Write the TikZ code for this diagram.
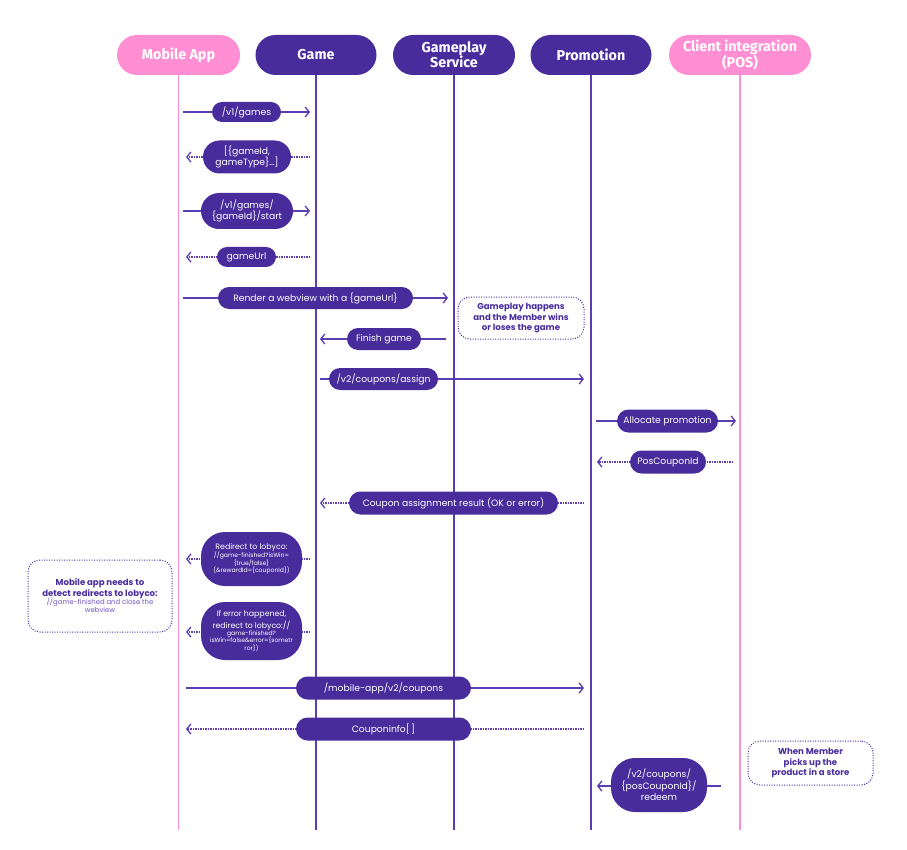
\documentclass[tikz,border=0pt]{standalone}
\usepackage{fontspec}
\setmainfont{Poppins}
\newfontfamily\headfont{Fira Sans}
\usetikzlibrary{arrows.meta,shapes.misc}
\definecolor{pinkc}{HTML}{FF8FD2}
\definecolor{purp}{HTML}{482C9C}
\definecolor{linec}{HTML}{5A3CB4}
\definecolor{notec}{HTML}{4A2E9E}
\definecolor{notelight}{HTML}{6E55C4}
\newcommand{\pbig}{\fontsize{7.8}{9}\selectfont}
\newcommand{\psml}{\fontsize{6.1}{7.4}\selectfont}
\newcommand{\notesm}{\mdseries\color{notelight}\fontsize{6.9}{8}\selectfont}
\begin{document}
\begin{tikzpicture}[x=1pt,y=-1pt,
 head/.style={rounded rectangle, minimum height=40pt, text=white, font=\headfont\bfseries\fontsize{14.3}{14.5}\selectfont, align=center, inner sep=0pt},
 pinkhead/.style={head, fill=pinkc},
 purphead/.style={head, fill=purp},
 life/.style={line width=1.3pt, draw=linec},
 pinklife/.style={line width=1.3pt, draw=pinkc},
 msg/.style={line width=1.3pt, draw=linec, -{Straight Barb[length=4pt,width=10pt]}},
 ret/.style={msg, dash pattern=on 1.3pt off 1.2pt},
 pill/.style={rounded rectangle, fill=purp, text=white, font=\fontsize{9.2}{11.5}\selectfont, align=center, inner sep=0pt, minimum height=22pt},
 tallpill/.style={rectangle, rounded corners=24pt, fill=purp, text=white, align=center, inner sep=0pt, font=\psml},
 note/.style={draw=notec, dash pattern=on 1pt off 1.5pt, line width=1pt, rounded corners=12pt, align=center, text=notec, font=\bfseries\fontsize{8.6}{10.5}\selectfont, inner sep=0pt}
]
\useasboundingbox (0,0) rectangle (907,850);
\fill[white] (0,0) rectangle (907,850);

% heads
\node[pinkhead, minimum width=123pt] (mob) at (178.5,55) {Mobile App};
\node[purphead, minimum width=121pt] (game) at (316,55) {Game};
\node[purphead, minimum width=122pt] (gps) at (454,55) {Gameplay\\[-1pt]Service};
\node[purphead, minimum width=121pt] (promo) at (591,55) {Promotion};
\node[pinkhead, minimum width=142pt] (pos) at (740,55) {Client integration\\[-1pt](POS)};

% lifeline ends
\coordinate (mobE) at (178.5,830);
\coordinate (gameE) at (316,830);
\coordinate (gpsE) at (454,830);
\coordinate (promoE) at (591,830);
\coordinate (posE) at (740,830);
\draw[pinklife] (mob.south) -- (mobE);
\draw[life] (game.south) -- (gameE);
\draw[life] (gps.south) -- (gpsE);
\draw[life] (promo.south) -- (promoE);
\draw[pinklife] (pos.south) -- (posE);

% message end points
\coordinate (a1) at (183,112); \coordinate (b1) at (310,112);
\coordinate (a2) at (310,157); \coordinate (b2) at (186,157);
\coordinate (a3) at (183,211); \coordinate (b3) at (310,211);
\coordinate (a4) at (310,257); \coordinate (b4) at (186,257);
\coordinate (a5) at (183,298); \coordinate (b5) at (448,298);
\coordinate (a7) at (446,339); \coordinate (b7) at (320,339);
\coordinate (a8) at (320,379); \coordinate (b8) at (584,379);
\coordinate (a9) at (596,421); \coordinate (b9) at (736,421);
\coordinate (a10) at (733,462); \coordinate (b10) at (597,462);
\coordinate (a11) at (584,503); \coordinate (b11) at (320,503);
\coordinate (a12) at (310,559); \coordinate (b12) at (186,559);
\coordinate (a13) at (310,632); \coordinate (b13) at (186,632);
\coordinate (a15) at (186,688); \coordinate (b15) at (584,688);
\coordinate (a16) at (584,729); \coordinate (b16) at (186,729);
\coordinate (a17) at (721,786); \coordinate (b17) at (597,786);

\draw[msg] (a1) -- (b1);
\draw[ret] (a2) -- (b2);
\draw[msg] (a3) -- (b3);
\draw[ret] (a4) -- (b4);
\draw[msg] (a5) -- (b5);
\draw[msg] (a7) -- (b7);
\draw[msg] (a8) -- (b8);
\draw[msg] (a9) -- (b9);
\draw[ret] (a10) -- (b10);
\draw[ret] (a11) -- (b11);
\draw[ret] (a12) -- (b12);
\draw[ret] (a13) -- (b13);
\draw[msg] (a15) -- (b15);
\draw[ret] (a16) -- (b16);
\draw[msg] (a17) -- (b17);

% pills
\node[pill, minimum width=69pt, minimum height=20pt] (p1) at (246.5,112) {/v1/games};
\node[pill, minimum width=88pt, minimum height=33pt] (p2) at (247,157) {[\{gameId,\\gameType\}…]};
\node[pill, minimum width=92pt, minimum height=36pt] (p3) at (247,211) {/v1/games/\\\{gameId\}/start};
\node[pill, minimum width=59pt, minimum height=20pt] (p4) at (246.5,257) {gameUrl};
\node[pill, minimum width=195pt] (p5) at (315.5,298) {Render a webview with a \{gameUrl\}};
\node[pill, minimum width=74pt] (p7) at (384,339) {Finish game};
\node[pill, minimum width=109pt] (p8) at (383.5,379) {/v2/coupons/assign};
\node[pill, minimum width=101pt, minimum height=23pt] (p9) at (667.5,421) {Allocate promotion};
\node[pill, minimum width=76pt, minimum height=23pt] (p10) at (668,462) {PosCouponId};
\node[pill, minimum width=209pt, minimum height=23pt] (p11) at (453.5,503) {Coupon assignment result (OK or error)};
\node[tallpill, minimum width=101pt, minimum height=54pt] (p12) at (251.5,559)
 {\pbig Redirect to lobyco:\\[-0.5pt]
  //game-finished?isWin=\\\{true/false\}\\(\&rewardId=\{couponId\})};
\node[tallpill, minimum width=101pt, minimum height=58pt] (p13) at (251.5,631)
 {\pbig If error happened,\\[1.6pt]\pbig redirect to lobyco://\\[-0.5pt]
  game-finished?\\isWin=false\&error=\{sometr\\ror\})};
\node[pill, minimum width=175pt, minimum height=23pt] (p15) at (383.5,688) {/mobile-app/v2/coupons};
\node[pill, minimum width=175pt, minimum height=23pt] (p16) at (383.5,729) {Couponinfo[\,]};
\node[tallpill, minimum width=96pt, minimum height=54pt, font=\fontsize{9.2}{11.5}\selectfont] (p17) at (659,785) {/v2/coupons/\\\{posCouponId\}/\\redeem};

% notes
\node[note, minimum width=126pt, minimum height=42pt] (n1) at (521,318)
 {Gameplay happens\\and the Member wins\\or loses the game};
\node[note, minimum width=144pt, minimum height=72pt] (n2) at (100,596)
 {Mobile app needs to\\detect redirects to lobyco:\\[-2pt]
  \notesm //game-finished and close the\\[-2.5pt]\notesm webview};
\node[note, minimum width=125pt, minimum height=44pt] (n3) at (810.5,763)
 {When Member\\picks up the\\product in a store};
\end{tikzpicture}
\end{document}
